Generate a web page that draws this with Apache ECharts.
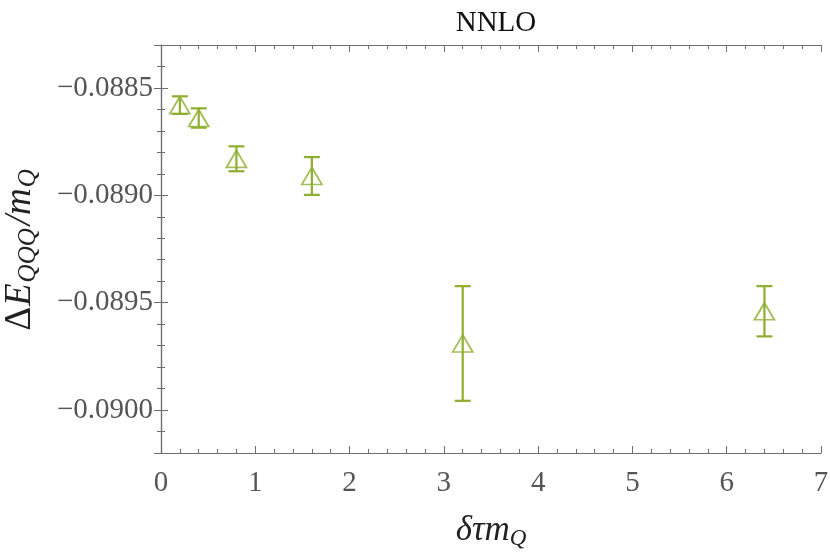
<!DOCTYPE html>
<html>
<head>
<meta charset="utf-8">
<script src="https://cdn.jsdelivr.net/npm/echarts@6/dist/echarts.min.js"></script>
<style>
    html, body { margin: 0; padding: 0; background: #fff; }
    #chart { width: 830px; height: 555px; }
</style>
</head>
<body>
<div id="chart"></div>
<script>
// dtau*mQ values and the NNLO energies with their errors
const tauValues = [0.2, 0.4, 0.8, 1.6, 3.2, 6.4];
const energyValues = [-0.08858, -0.08864, -0.08883, -0.08891, -0.08969, -0.08954];
const energyErrors = [0.000041, 0.000045, 0.000058, 0.000088, 0.000267, 0.000117];
const xTicks = [0, 1, 2, 3, 4, 5, 6, 7];

const green = '#8fae2f';
const axisGray = '#6e6e6e';
const labelGray = '#555555';
const serif = '"Liberation Serif", "DejaVu Serif", serif';

let points = tauValues.map((x, i) => [x, energyValues[i]]);
let bars = tauValues.map((x, i) => [x, energyValues[i] - energyErrors[i], energyValues[i] + energyErrors[i]]);

let fmtY = function (v) {
    return (v < 0 ? '\u2212' : '') + Math.abs(v).toFixed(4);
};

let frameAxis = function (extra) {
    return Object.assign({
        type: 'value',
        axisLine: { show: true, lineStyle: { color: axisGray, width: 1.2 } },
        axisTick: { show: true, inside: true, length: 7, lineStyle: { color: axisGray } },
        minorTick: { show: true, splitNumber: 5, length: 4, lineStyle: { color: axisGray } },
        splitLine: { show: false },
        minorSplitLine: { show: false }
    }, extra);
};

let chart = echarts.init(document.getElementById('chart'));
chart.setOption({
    animation: false,
    backgroundColor: '#fff',
    title: {
        text: 'NNLO',
        left: 491,
        top: 4,
        textAlign: 'center',
        textStyle: { fontFamily: serif, fontSize: 29, fontWeight: 'normal', color: '#111' }
    },
    grid: { left: 161, right: 9, top: 45, bottom: 102, outerBoundsMode: 'none' },
    xAxis: [
        frameAxis({
            min: 0, max: 7, interval: 1,
            name: '{i|δτm}{s|Q}',
            nameLocation: 'middle',
            nameGap: 58,
            nameTextStyle: {
                rich: {
                    i: { fontFamily: serif, fontStyle: 'italic', fontSize: 35, color: '#222' },
                    s: { fontFamily: serif, fontStyle: 'italic', fontSize: 23, color: '#222', padding: [16, 0, 0, 0] }
                }
            },
            axisLabel: {
                margin: 16,
                fontFamily: serif, fontSize: 29, color: labelGray,
                formatter: v => xTicks.indexOf(v) >= 0 ? String(v) : ''
            }
        }),
        frameAxis({ min: 0, max: 7, interval: 1, position: 'top', axisLabel: { show: false } })
    ],
    yAxis: [
        frameAxis({
            min: -0.0902, max: -0.0883, splitNumber: 4,
            name: '{u|Δ}{i|E}{s|QQQ}{i|/m}{s|Q}',
            nameLocation: 'middle',
            nameRotate: 90,
            nameGap: 120,
            nameTextStyle: {
                rich: {
                    u: { fontFamily: serif, fontSize: 37, color: '#222' },
                    i: { fontFamily: serif, fontStyle: 'italic', fontSize: 37, color: '#222', padding: [0, 1, 0, 1] },
                    s: { fontFamily: serif, fontStyle: 'italic', fontSize: 25, color: '#222', padding: [17, 2, 0, 0] }
                }
            },
            axisLabel: {
                margin: 8,
                showMinLabel: false, showMaxLabel: false,
                fontFamily: serif, fontSize: 29, color: labelGray,
                formatter: fmtY
            }
        }),
        frameAxis({ min: -0.0902, max: -0.0883, splitNumber: 4, position: 'right', axisLabel: { show: false } })
    ],
    series: [
        {
            type: 'custom',
            data: bars,
            z: 2,
            renderItem: function (params, api) {
                let x = api.value(0);
                let lo = api.coord([x, api.value(1)]);
                let hi = api.coord([x, api.value(2)]);
                let cap = 8;
                let style = { stroke: green, lineWidth: 2.2 };
                return {
                    type: 'group',
                    children: [
                        { type: 'line', shape: { x1: lo[0], y1: lo[1], x2: hi[0], y2: hi[1] }, style: style },
                        { type: 'line', shape: { x1: lo[0] - cap, y1: lo[1], x2: lo[0] + cap, y2: lo[1] }, style: style },
                        { type: 'line', shape: { x1: hi[0] - cap, y1: hi[1], x2: hi[0] + cap, y2: hi[1] }, style: style }
                    ]
                };
            }
        },
        {
            type: 'scatter',
            data: points,
            z: 3,
            symbol: 'triangle',
            symbolSize: [20, 17],
            itemStyle: { color: 'rgba(255,255,255,0)', borderColor: green, borderWidth: 1.8 }
        }
    ]
});
</script>
</body>
</html>
